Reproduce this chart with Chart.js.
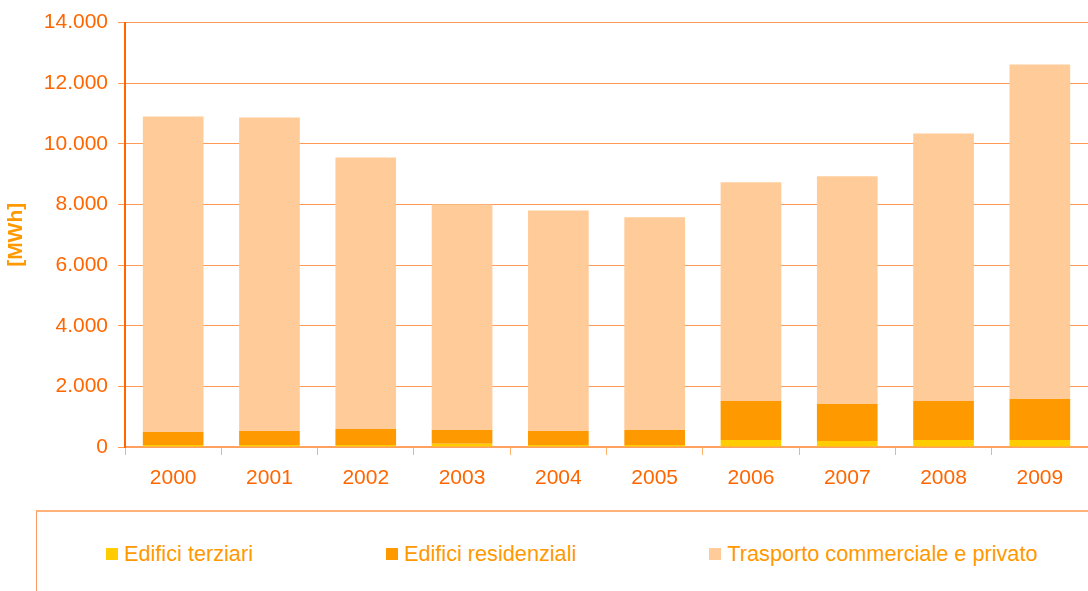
<!DOCTYPE html>
<html>
<head>
<meta charset="utf-8">
<script src="https://cdn.jsdelivr.net/npm/chart.js@4"></script>
<style>
  html, body { margin: 0; padding: 0; background: #fff; overflow: hidden; }
  #wrap { position: relative; width: 1088px; height: 510px; }
  #legend {
    position: absolute; left: 36px; top: 510px; width: 1052px; height: 81px;
    border-top: 2px solid #FFB27A; border-left: 1px solid #FF9966;
    box-sizing: border-box; display: flex; align-items: flex-start; gap: 133px; padding-left: 69px; padding-top: 29px;
    font-family: "Liberation Sans", Arial, sans-serif; font-size: 21.7px; color: #FF9900;
  }
  .item { display: flex; align-items: center; white-space: nowrap; }
  .box { width: 12px; height: 12px; margin-right: 6px; }
</style>
</head>
<body>
<div id="wrap"><canvas id="chart"></canvas></div>
<div id="legend"></div>
<script>
const years = ['2000', '2001', '2002', '2003', '2004', '2005', '2006', '2007', '2008', '2009'];
const terziari = [66, 66, 66, 110, 66, 66, 230, 200, 230, 230];
const residenziali = [430, 460, 530, 450, 460, 495, 1285, 1215, 1285, 1350];
const trasporto = [10405, 10345, 8955, 7440, 7275, 7020, 7215, 7515, 8825, 11035];
const seriesNames = ['Edifici terziari', 'Edifici residenziali', 'Trasporto commerciale e privato'];
const seriesColors = ['#FFCC00', '#FF9900', '#FFCC99'];

const fmt = v => String(v).replace(/\B(?=(\d{3})+(?!\d))/g, '.');

const datasets = [terziari, residenziali, trasporto].map((d, i) => ({
  label: seriesNames[i],
  data: d,
  backgroundColor: seriesColors[i],
  barPercentage: 0.63,
  categoryPercentage: 1
}));

const ctx = document.getElementById('chart').getContext('2d');
const chart = new Chart(ctx, {
  type: 'bar',
  data: { labels: years, datasets },
  options: {
    responsive: true,
    maintainAspectRatio: false,
    animation: false,
    layout: { padding: { top: 22, right: 0, bottom: 0, left: 0 } },
    plugins: { legend: { display: false }, tooltip: { enabled: false } },
    scales: {
      x: {
        stacked: true,
        grid: { drawOnChartArea: false, color: '#FFB366', tickLength: 8, offset: true },
        border: { color: '#FFA060', width: 2 },
        ticks: { color: '#FF6600', font: { family: 'Liberation Sans', size: 21 }, padding: 11 },
        afterFit: s => { s.height = 63; }
      },
      y: {
        stacked: true,
        min: 0, max: 14000,
        grid: { color: '#FF9955', tickLength: 7 },
        border: { color: '#FF6600', width: 2 },
        ticks: { stepSize: 2000, color: '#FF6600', font: { family: 'Liberation Sans', size: 21 }, padding: 10, callback: v => fmt(v) },
        title: { display: true, text: '[MWh]', color: '#FF9900', font: { family: 'Liberation Sans', size: 21, weight: 'bold' }, padding: { top: 4, bottom: 0 } },
        afterFit: s => { s.width = 125; }
      }
    }
  }
});

// legend built from the datasets
const legend = document.getElementById('legend');
chart.data.datasets.forEach(ds => {
  const it = document.createElement('div');
  it.className = 'item';
  it.innerHTML = `<span class="box" style="background:${ds.backgroundColor}"></span>${ds.label}`;
  legend.appendChild(it);
});
</script>
</body>
</html>
